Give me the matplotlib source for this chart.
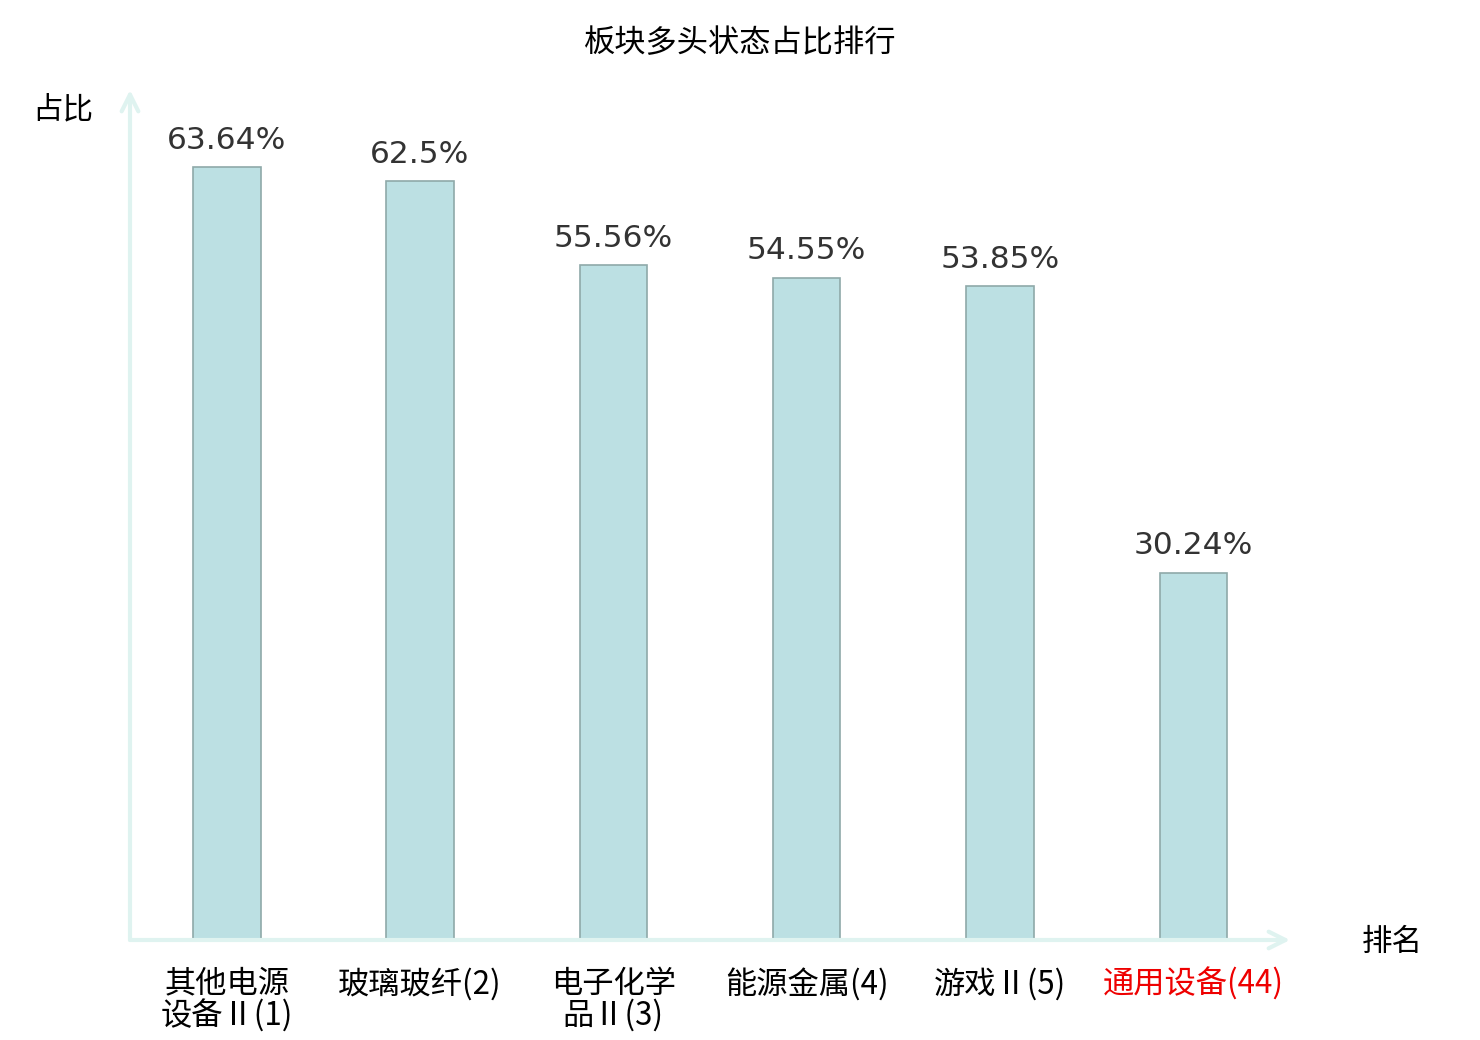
import matplotlib.pyplot as plt
import numpy as np

plt.rcParams['font.family'] = ['Noto Sans CJK SC', 'DejaVu Sans']

categories = ["其他电源\n设备Ⅱ(1)", "玻璃玻纤(2)", "电子化学\n品Ⅱ(3)",
              "能源金属(4)", "游戏Ⅱ(5)", "通用设备(44)"]
values = [63.64, 62.5, 55.56, 54.55, 53.85, 30.24]
value_labels = ["63.64%", "62.5%", "55.56%", "54.55%", "53.85%", "30.24%"]

fig = plt.figure(figsize=(14.8, 10.4), dpi=100)
ax = fig.add_axes([130 / 1480, 100 / 1040, 1160 / 1480, 850 / 1040])

x = np.arange(len(categories))
ax.bar(x, values, width=0.35, color='#bce0e3', edgecolor='#8fa9a9', linewidth=1.2, zorder=3)

for xi, v, lab in zip(x, values, value_labels):
    ax.annotate(lab, (xi, v), xytext=(0, 9), textcoords='offset points',
                ha='center', va='bottom', fontsize=22.5, color='#333333',
                family='DejaVu Sans')

ax.set_xlim(-0.5, 5.5)
ax.set_ylim(0, 70)
for s in ax.spines.values():
    s.set_visible(False)
ax.set_yticks([])
ax.set_xticks(x)
ax.set_xticklabels(categories, fontsize=22.5, linespacing=0.98)
ax.tick_params(axis='x', length=0, pad=20)
ax.get_xticklabels()[-1].set_color('#ee0000')

arrow_c = '#dff3f0'
ax.annotate('', xy=(1.0, 0), xytext=(0, 0), xycoords='axes fraction',
            arrowprops=dict(arrowstyle='->', color=arrow_c, lw=3, mutation_scale=30,
                            shrinkA=0, shrinkB=0))
ax.annotate('', xy=(0, 1.0), xytext=(0, 0), xycoords='axes fraction',
            arrowprops=dict(arrowstyle='->', color=arrow_c, lw=3, mutation_scale=30,
                            shrinkA=0, shrinkB=0))

fig.text(0.5, 1 - 43 / 1040, "板块多头状态占比排行", ha='center', va='center', fontsize=22.5)
fig.text(63 / 1480, 1 - 110 / 1040, "占比", ha='center', va='center', fontsize=22)
fig.text(1392 / 1480, 1 - 942 / 1040, "排名", ha='center', va='center', fontsize=22)

plt.savefig("out.png")
